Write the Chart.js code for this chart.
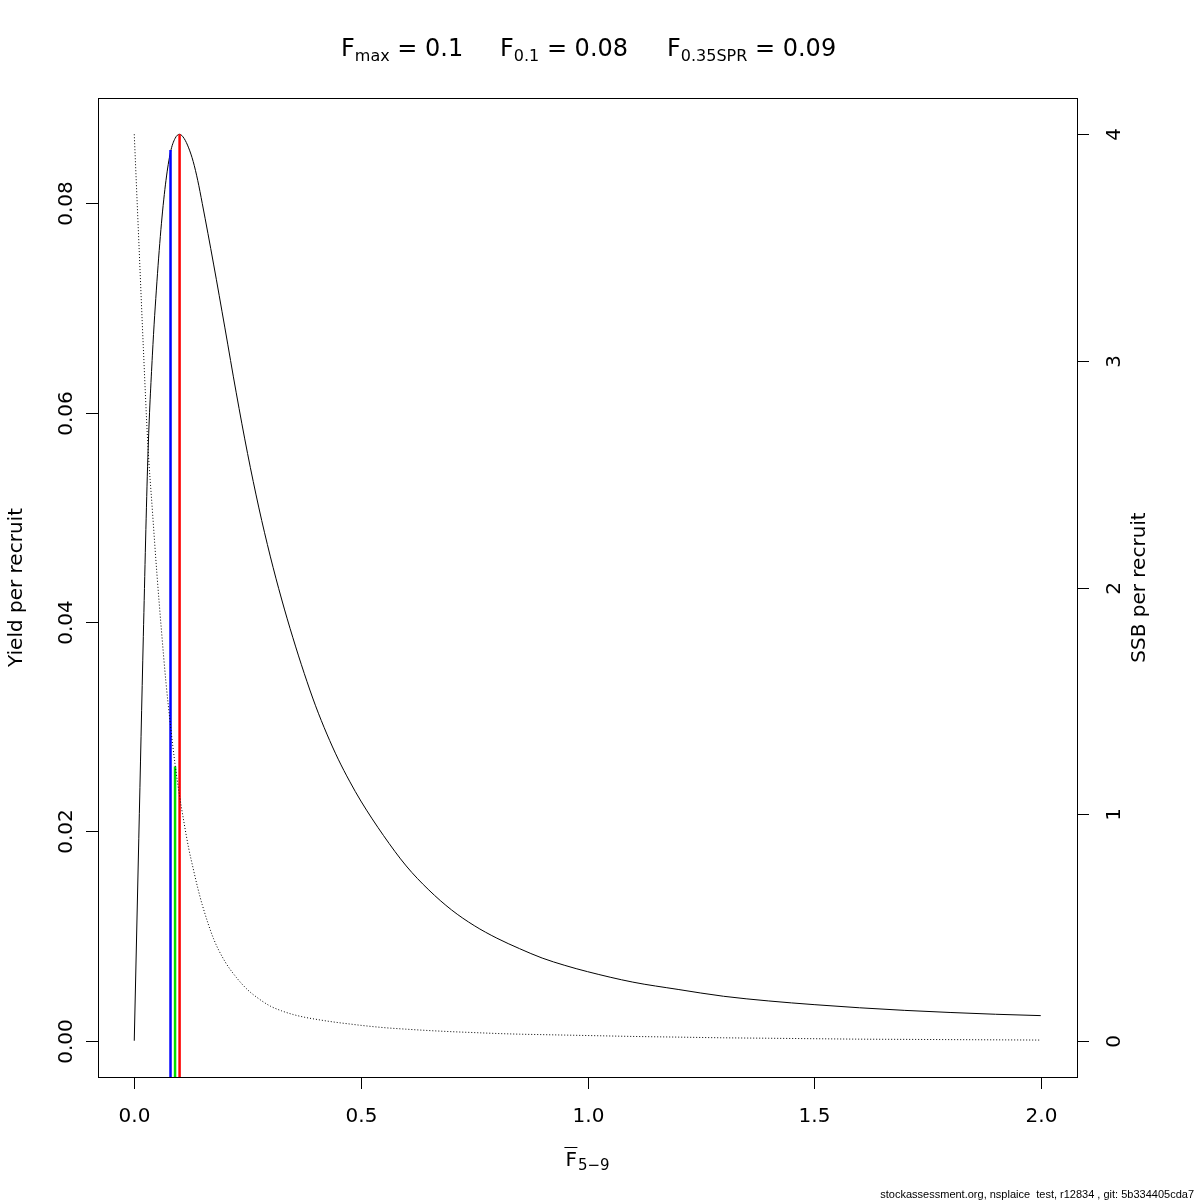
<!DOCTYPE html>
<html>
<head>
<meta charset="utf-8">
<script src="https://cdn.jsdelivr.net/npm/chart.js@4.4.1/dist/chart.umd.min.js"></script>
<style>
  html, body { margin: 0; padding: 0; background: #fff; }
  canvas { display: block; }
</style>
</head>
<body>
<canvas id="ypr" width="1200" height="1200" style="width:1200px;height:1200px"></canvas>
<script>
// Fishing mortality grid (x axis)
const fGrid = [0, 0.01, 0.02, 0.03, 0.04, 0.05, 0.06, 0.07, 0.08, 0.09, 0.1,
  0.11, 0.12, 0.13, 0.14, 0.15, 0.175, 0.2, 0.225, 0.25, 0.275, 0.3, 0.325, 0.35, 0.375, 0.4, 0.425, 0.45, 0.475,
  0.5, 0.55, 0.6, 0.65, 0.7, 0.75, 0.8, 0.85, 0.9, 0.95, 1.0, 1.1, 1.2, 1.3, 1.4, 1.5, 1.6, 1.7, 1.8, 1.9, 2.0];

// Yield per recruit (left axis)
const yieldPR = [0, 0.0193, 0.0386, 0.0557, 0.0655, 0.0725, 0.0781, 0.0822, 0.0849, 0.0862, 0.0866,
  0.0862, 0.0853, 0.0840, 0.0822, 0.0800, 0.0742, 0.0681, 0.0619, 0.0561, 0.0509, 0.0463, 0.0422, 0.0385, 0.0351, 0.0320, 0.0293, 0.0269, 0.0248,
  0.0229, 0.0196, 0.0167, 0.0144, 0.0125, 0.0110, 0.0098, 0.0088, 0.0079, 0.0072, 0.0066, 0.0056, 0.0049, 0.00425, 0.0038, 0.00345, 0.00315, 0.0029, 0.0027, 0.00253, 0.0024];

// SSB per recruit (right axis, dotted)
const ssbPR = [4.0, 3.53, 3.06, 2.63, 2.34, 2.06, 1.81, 1.58, 1.39, 1.22, 1.08,
  0.96, 0.85, 0.76, 0.675, 0.60, 0.45, 0.35, 0.28, 0.225, 0.185, 0.153, 0.132, 0.116, 0.104, 0.095, 0.087, 0.080, 0.074,
  0.068, 0.058, 0.051, 0.045, 0.040, 0.036, 0.032, 0.029, 0.027, 0.025, 0.023, 0.019, 0.016, 0.013, 0.011, 0.009, 0.007, 0.006, 0.005, 0.004, 0.003];

// Reference points
const refLabels = ['Fmax', 'F0.1', 'F0.35SPR'];
const refF = [0.1, 0.08, 0.09];
const refTop = [0.0866, 0.0851, 1.21];
const refAxis = ['y', 'y', 'y2'];
const refColors = ['#ff0000', '#0000ff', '#00dd00'];

// Tick labels
const xTicks = [0, 0.5, 1.0, 1.5, 2.0];
const xTickLabels = ['0.0', '0.5', '1.0', '1.5', '2.0'];
const yTicks = [0, 0.02, 0.04, 0.06, 0.08];
const yTickLabels = ['0.00', '0.02', '0.04', '0.06', '0.08'];
const y2Ticks = [0, 1, 2, 3, 4];
const y2TickLabels = ['0', '1', '2', '3', '4'];

const xMin = -0.08, xMax = 2.08;
const yMin = -0.003464, yMax = 0.090064;
const y2Min = -0.16, y2Max = 4.16;

const FONT = '"DejaVu Sans", sans-serif';

const datasets = [];
datasets.push({
  label: 'SSB per recruit',
  data: fGrid.map((f, i) => ({ x: f, y: ssbPR[i] })),
  yAxisID: 'y2',
  borderColor: '#000',
  borderWidth: 1,
  borderDash: [1, 2],
  showLine: true,
  pointRadius: 0,
  cubicInterpolationMode: 'monotone'
});
refF.forEach((f, i) => {
  datasets.push({
    label: refLabels[i],
    data: [{ x: f, y: refAxis[i] === 'y' ? yMin : y2Min }, { x: f, y: refTop[i] }],
    yAxisID: refAxis[i],
    borderColor: refColors[i],
    borderWidth: 2.5,
    showLine: true,
    pointRadius: 0
  });
});
datasets.push({
  label: 'Yield per recruit',
  data: fGrid.map((f, i) => ({ x: f, y: yieldPR[i] })),
  yAxisID: 'y',
  borderColor: '#000',
  borderWidth: 1,
  showLine: true,
  pointRadius: 0,
  cubicInterpolationMode: 'monotone'
});

// draws the R-style box, axes, titles
const rAxes = {
  id: 'rAxes',
  afterDraw(chart) {
    const ctx = chart.ctx;
    const a = chart.chartArea;
    const sx = chart.scales.x, sy = chart.scales.y, sy2 = chart.scales.y2;
    ctx.save();
    ctx.strokeStyle = '#000';
    ctx.fillStyle = '#000';
    ctx.lineWidth = 1;
    ctx.strokeRect(Math.round(a.left) + 0.5, Math.round(a.top) + 0.5,
      Math.round(a.right - a.left), Math.round(a.bottom - a.top));

    const tick = 12;
    ctx.font = '20px ' + FONT;

    // bottom axis
    ctx.textAlign = 'center';
    ctx.textBaseline = 'alphabetic';
    xTicks.forEach((v, i) => {
      const px = Math.round(sx.getPixelForValue(v)) + 0.5;
      ctx.beginPath();
      ctx.moveTo(px, a.bottom);
      ctx.lineTo(px, a.bottom + tick);
      ctx.stroke();
      ctx.fillText(xTickLabels[i], px, a.bottom + 45);
    });

    // left axis
    yTicks.forEach((v, i) => {
      const py = Math.round(sy.getPixelForValue(v)) + 0.5;
      ctx.beginPath();
      ctx.moveTo(a.left, py);
      ctx.lineTo(a.left - tick, py);
      ctx.stroke();
      ctx.save();
      ctx.translate(a.left - 26, py);
      ctx.rotate(-Math.PI / 2);
      ctx.fillText(yTickLabels[i], 0, 0);
      ctx.restore();
    });

    // right axis
    y2Ticks.forEach((v, i) => {
      const py = Math.round(sy2.getPixelForValue(v)) + 0.5;
      ctx.beginPath();
      ctx.moveTo(a.right, py);
      ctx.lineTo(a.right + tick, py);
      ctx.stroke();
      ctx.save();
      ctx.translate(a.right + 43, py);
      ctx.rotate(-Math.PI / 2);
      ctx.fillText(y2TickLabels[i], 0, 0);
      ctx.restore();
    });

    const midY = (a.top + a.bottom) / 2;
    const midX = (a.left + a.right) / 2;

    // axis titles
    ctx.save();
    ctx.translate(22, midY);
    ctx.rotate(-Math.PI / 2);
    ctx.fillText('Yield per recruit', 0, 0);
    ctx.restore();

    ctx.save();
    ctx.translate(1145, midY);
    ctx.rotate(-Math.PI / 2);
    ctx.fillText('SSB per recruit', 0, 0);
    ctx.restore();

    // x title: F-bar with subscript 5-9
    ctx.font = '20px ' + FONT;
    const fW = ctx.measureText('F').width;
    ctx.font = '15px ' + FONT;
    const subW = ctx.measureText('5\u22129').width;
    const startX = midX - (fW + 1 + subW) / 2;
    ctx.textAlign = 'left';
    ctx.font = '20px ' + FONT;
    ctx.fillText('F', startX, 1166);
    ctx.beginPath();
    ctx.moveTo(startX - 1, 1147.5);
    ctx.lineTo(startX + fW + 0.5, 1147.5);
    ctx.stroke();
    ctx.font = '15px ' + FONT;
    ctx.fillText('5\u22129', startX + fW + 1, 1170);

    // main title
    const groups = [
      { x: 341, main: 'F', sub: 'max', rest: ' = 0.1' },
      { x: 500, main: 'F', sub: '0.1', rest: ' = 0.08' },
      { x: 667, main: 'F', sub: '0.35SPR', rest: ' = 0.09' }
    ];
    groups.forEach(g => {
      let x = g.x;
      ctx.font = '24px ' + FONT;
      ctx.fillText(g.main, x, 56);
      x += ctx.measureText(g.main).width;
      ctx.font = '16px ' + FONT;
      ctx.fillText(g.sub, x, 61);
      x += ctx.measureText(g.sub).width;
      ctx.font = '24px ' + FONT;
      ctx.fillText(g.rest, x, 56);
    });

    // footer
    ctx.font = '11px "Liberation Sans", Arial, sans-serif';
    ctx.textAlign = 'right';
    ctx.fillText('stockassessment.org, nsplaice  test, r12834 , git: 5b334405cda7', 1194, 1198);
    ctx.restore();
  }
};

new Chart(document.getElementById('ypr').getContext('2d'), {
  type: 'scatter',
  data: { datasets },
  options: {
    responsive: false,
    animation: false,
    devicePixelRatio: 1,
    layout: { padding: { left: 98, top: 98, right: 123, bottom: 123 } },
    plugins: { legend: { display: false }, tooltip: { enabled: false } },
    scales: {
      x: { type: 'linear', min: xMin, max: xMax, display: false },
      y: { type: 'linear', min: yMin, max: yMax, display: false },
      y2: { type: 'linear', position: 'right', min: y2Min, max: y2Max, display: false }
    }
  },
  plugins: [rAxes]
});
</script>
</body>
</html>
